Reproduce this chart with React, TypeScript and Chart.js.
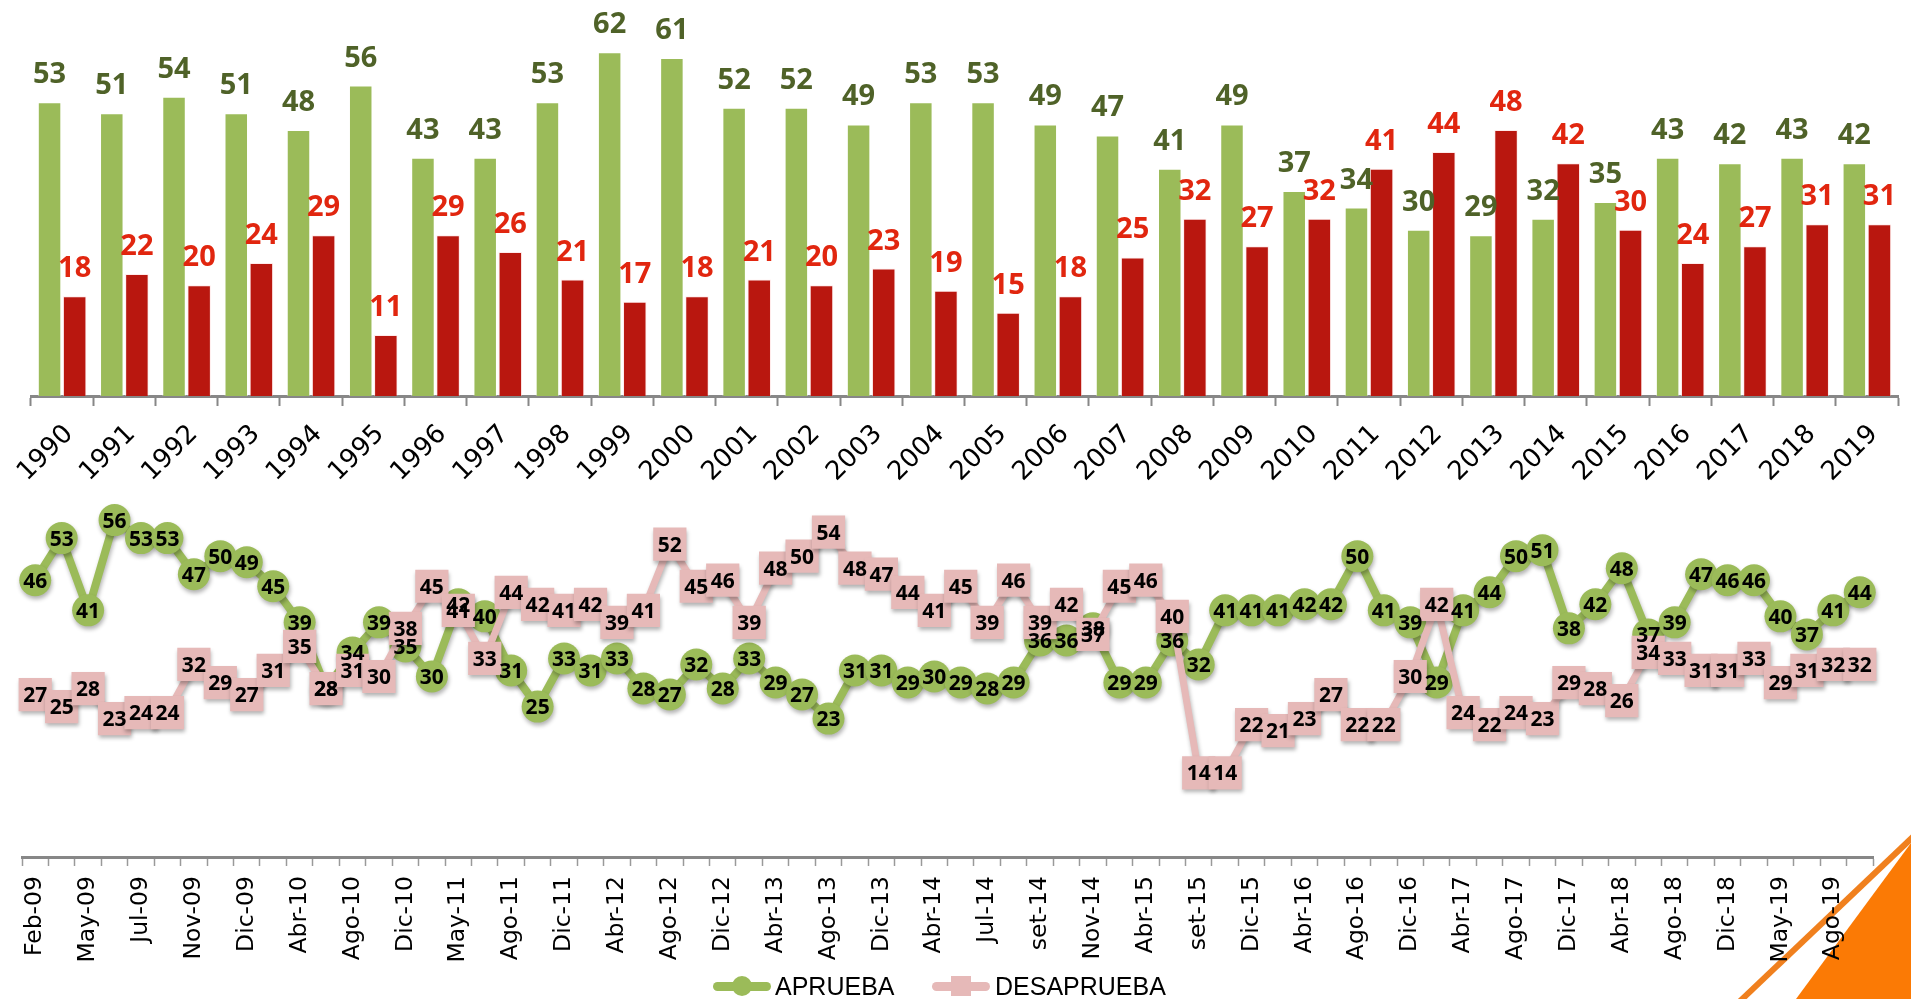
import React, { useEffect, useRef } from 'react';
import { Chart, registerables } from 'chart.js';

Chart.register(...registerables);

// ---- Annual data (top bar chart) ----
const years = [
  '1990', '1991', '1992', '1993', '1994', '1995', '1996', '1997', '1998', '1999',
  '2000', '2001', '2002', '2003', '2004', '2005', '2006', '2007', '2008', '2009',
  '2010', '2011', '2012', '2013', '2014', '2015', '2016', '2017', '2018', '2019',
];
const apruebaYear = [53, 51, 54, 51, 48, 56, 43, 43, 53, 62, 61, 52, 52, 49, 53, 53, 49, 47, 41, 49, 37, 34, 30, 29, 32, 35, 43, 42, 43, 42];
const desapruebaYear = [18, 22, 20, 24, 29, 11, 29, 26, 21, 17, 18, 21, 20, 23, 19, 15, 18, 25, 32, 27, 32, 41, 44, 48, 42, 30, 24, 27, 31, 31];

// ---- Survey data (bottom line chart) ----
const monthLabels = [
  'Feb-09', 'May-09', 'Jul-09', 'Nov-09', 'Dic-09', 'Abr-10', 'Ago-10', 'Dic-10', 'May-11', 'Ago-11',
  'Dic-11', 'Abr-12', 'Ago-12', 'Dic-12', 'Abr-13', 'Ago-13', 'Dic-13', 'Abr-14', 'Jul-14', 'set-14',
  'Nov-14', 'Abr-15', 'set-15', 'Dic-15', 'Abr-16', 'Ago-16', 'Dic-16', 'Abr-17', 'Ago-17', 'Dic-17',
  'Abr-18', 'Ago-18', 'Dic-18', 'May-19', 'Ago-19',
];
// every other survey carries a visible label
const surveyCategories = monthLabels.flatMap((m) => [m, '']);

const apruebaSurvey = [
  46, 53, 41, 56, 53, 53, 47, 50, 49, 45,
  39, 28, 34, 39, 35, 30, 42, 40, 31, 25,
  33, 31, 33, 28, 27, 32, 28, 33, 29, 27,
  23, 31, 31, 29, 30, 29, 28, 29, 36, 36,
  38, 29, 29, 36, 32, 41, 41, 41, 42, 42,
  50, 41, 39, 29, 41, 44, 50, 51, 38, 42,
  48, 37, 39, 47, 46, 46, 40, 37, 41, 44,
];
const desapruebaSurvey = [
  27, 25, 28, 23, 24, 24, 32, 29, 27, 31,
  35, 28, 31, 30, 38, 45, 41, 33, 44, 42,
  41, 42, 39, 41, 52, 45, 46, 39, 48, 50,
  54, 48, 47, 44, 41, 45, 39, 46, 39, 42,
  37, 45, 46, 40, 14, 14, 22, 21, 23, 27,
  22, 22, 30, 42, 24, 22, 24, 23, 29, 28,
  26, 34, 33, 31, 31, 33, 29, 31, 32, 32,
];

const GREEN = '#9BBB59';
const RED = '#B9170F';
const PINK = '#E6B9B8';
const GREEN_LABEL = '#4F6228';
const RED_LABEL = '#E1260F';
const AXIS = '#878787';

const barLabelPlugin = {
  id: 'barLabels',
  afterDatasetsDraw(chart: any) {
    const ctx = chart.ctx;
    ctx.save();
    ctx.font = 'bold 29px "Noto Sans"';
    ctx.textAlign = 'center';
    ctx.textBaseline = 'alphabetic';
    chart.data.datasets.forEach((ds: any, di: number) => {
      const meta = chart.getDatasetMeta(di);
      ctx.fillStyle = di === 0 ? GREEN_LABEL : RED_LABEL;
      meta.data.forEach((el: any, i: number) => {
        ctx.fillText(String(ds.data[i]), el.x, el.y - 19);
      });
    });
    ctx.restore();
  },
};

const linePlugin = {
  id: 'lineDecor',
  beforeDatasetsDraw(chart: any) {
    const ctx = chart.ctx;
    ctx.save();
    ctx.shadowColor = 'rgba(0,0,0,0.30)';
    ctx.shadowBlur = 4;
    ctx.shadowOffsetX = 1;
    ctx.shadowOffsetY = 3;
  },
  afterDatasetsDraw(chart: any) {
    const ctx = chart.ctx;
    ctx.restore();
    ctx.save();
    ctx.font = 'bold 21px "Noto Sans"';
    ctx.textAlign = 'center';
    ctx.textBaseline = 'alphabetic';
    ctx.fillStyle = '#000';
    chart.data.datasets.forEach((ds: any, di: number) => {
      const meta = chart.getDatasetMeta(di);
      meta.data.forEach((el: any, i: number) => {
        ctx.fillText(String(ds.data[i]), el.x, el.y + 7.5);
      });
    });
    ctx.restore();
  },
};

export default function App() {
  const barRef = useRef<HTMLCanvasElement>(null);
  const lineRef = useRef<HTMLCanvasElement>(null);

  useEffect(() => {
    const barChart = new Chart(barRef.current as HTMLCanvasElement, {
      type: 'bar',
      data: {
        labels: years,
        datasets: [
          {
            label: 'APRUEBA',
            data: apruebaYear,
            backgroundColor: GREEN,
            borderColor: 'rgba(255,255,255,0.45)',
            borderWidth: 1,
            categoryPercentage: 0.807,
            barPercentage: 0.936,
          },
          {
            label: 'DESAPRUEBA',
            data: desapruebaYear,
            backgroundColor: RED,
            borderColor: 'rgba(255,210,210,0.45)',
            borderWidth: 1,
            categoryPercentage: 0.807,
            barPercentage: 0.936,
          },
        ],
      },
      options: {
        responsive: false,
        maintainAspectRatio: false,
        animation: false,
        events: [],
        layout: { autoPadding: false, padding: { left: 31, right: 13, top: 8, bottom: 0 } },
        plugins: { legend: { display: false }, tooltip: { enabled: false } },
        scales: {
          x: {
            offset: true,
            grid: {
              display: true,
              drawOnChartArea: false,
              drawTicks: true,
              tickLength: 10,
              tickWidth: 2,
              tickColor: AXIS,
              offset: true,
            },
            border: { display: true, color: AXIS, width: 3 },
            ticks: {
              autoSkip: false,
              maxRotation: 45,
              minRotation: 45,
              padding: 13,
              labelOffset: 7,
              color: '#000',
              font: { family: '"DejaVu Sans"', size: 26 },
            },
            afterFit(scale: any) {
              scale.height = 104;
              scale.paddingLeft = 0;
              scale.paddingRight = 0;
            },
          },
          y: { display: false, min: 0, max: 70 },
        },
      } as any,
      plugins: [barLabelPlugin],
    });

    const lineChart = new Chart(lineRef.current as HTMLCanvasElement, {
      type: 'line',
      data: {
        labels: surveyCategories,
        datasets: [
          {
            label: 'APRUEBA',
            data: apruebaSurvey,
            borderColor: GREEN,
            backgroundColor: GREEN,
            borderWidth: 8,
            borderJoinStyle: 'round',
            borderCapStyle: 'round',
            tension: 0,
            pointStyle: 'circle',
            pointRadius: 16,
            pointBorderWidth: 0,
            pointBackgroundColor: GREEN,
            order: 1,
          },
          {
            label: 'DESAPRUEBA',
            data: desapruebaSurvey,
            borderColor: PINK,
            backgroundColor: PINK,
            borderWidth: 7,
            borderJoinStyle: 'round',
            borderCapStyle: 'round',
            tension: 0,
            pointStyle: 'rect',
            pointRadius: 23.5,
            pointBorderWidth: 0,
            pointBackgroundColor: PINK,
            order: 0,
          },
        ],
      },
      options: {
        responsive: false,
        maintainAspectRatio: false,
        animation: false,
        events: [],
        layout: { autoPadding: false, padding: { left: 22, right: 38, top: 16, bottom: 0 } },
        plugins: { legend: { display: false }, tooltip: { enabled: false } },
        scales: {
          x: {
            offset: true,
            grid: {
              display: true,
              drawOnChartArea: false,
              drawTicks: true,
              tickLength: 9,
              tickWidth: 1.5,
              tickColor: '#9a9a9a',
              offset: true,
            },
            border: { display: true, color: AXIS, width: 3 },
            ticks: {
              autoSkip: false,
              maxRotation: 90,
              minRotation: 90,
              padding: 10,
              color: '#000',
              font: { family: '"DejaVu Sans"', size: 23.5 },
            },
            afterFit(scale: any) {
              scale.height = 142;
              scale.paddingLeft = 0;
              scale.paddingRight = 0;
            },
          },
          y: { display: false, min: 0, max: 60 },
        },
      } as any,
      plugins: [linePlugin],
    });

    return () => {
      barChart.destroy();
      lineChart.destroy();
    };
  }, []);

  const legendText: React.CSSProperties = {
    position: 'absolute',
    top: 970,
    fontFamily: '"Liberation Sans"',
    fontSize: 25,
    lineHeight: '32px',
    color: '#000',
    whiteSpace: 'nowrap',
  };

  return (
    <div
      style={{
        position: 'absolute',
        left: 0,
        top: 0,
        width: 1911,
        height: 999,
        overflow: 'hidden',
        background: '#ffffff',
      }}
    >
      <svg width={1911} height={999} style={{ position: 'absolute', left: 0, top: 0 }}>
        <line x1={1916} y1={834} x2={1737} y2={1004} stroke="#F0801E" strokeWidth={6} />
        <polygon points="1911,843 1911,999 1796,999" fill="#FB7A05" />
      </svg>
      <canvas
        ref={barRef}
        width={1911}
        height={500}
        style={{ position: 'absolute', left: 0, top: 0, width: 1911, height: 500 }}
      />
      <canvas
        ref={lineRef}
        width={1911}
        height={519}
        style={{ position: 'absolute', left: 0, top: 480, width: 1911, height: 519 }}
      />
      {/* legend */}
      <div style={{ position: 'absolute', left: 713, top: 976, width: 58, height: 20 }}>
        <div style={{ position: 'absolute', left: 0, top: 5.5, width: 58, height: 9, borderRadius: 4.5, background: GREEN }} />
        <div style={{ position: 'absolute', left: 19, top: 0, width: 20, height: 20, borderRadius: 10, background: GREEN }} />
      </div>
      <div style={{ ...legendText, left: 775 }}>APRUEBA</div>
      <div style={{ position: 'absolute', left: 932, top: 976, width: 58, height: 20 }}>
        <div style={{ position: 'absolute', left: 0, top: 5.5, width: 58, height: 9, borderRadius: 4.5, background: PINK }} />
        <div style={{ position: 'absolute', left: 19, top: 0, width: 20, height: 20, background: PINK }} />
      </div>
      <div style={{ ...legendText, left: 995 }}>DESAPRUEBA</div>
    </div>
  );
}
